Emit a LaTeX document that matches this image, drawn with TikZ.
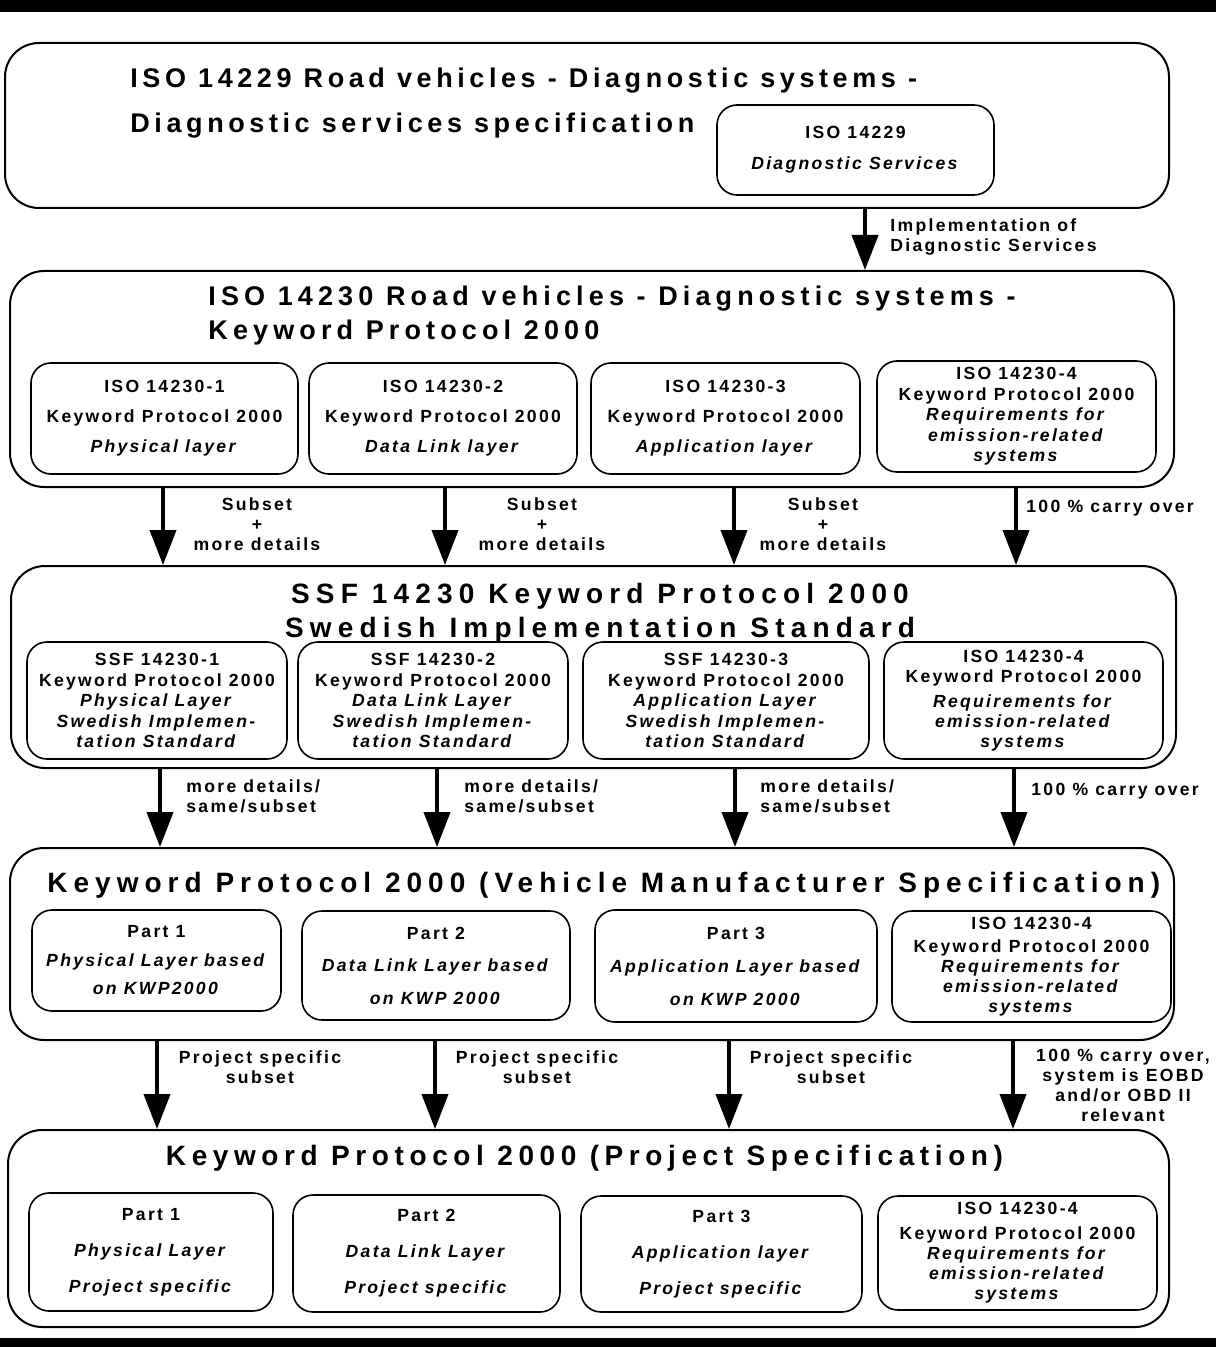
\documentclass[tikz,border=0pt]{standalone}
\usepackage{fontspec}
\setmainfont{Liberation Sans}
\newfontfamily\kwpsmall{Liberation Sans}[LetterSpace=13]
\newfontfamily\kwptitleA{Liberation Sans}[LetterSpace=17]
\newfontfamily\kwptitleB{Liberation Sans}[LetterSpace=19]
\newfontfamily\kwptitleC{Liberation Sans}[LetterSpace=22]
\newfontfamily\kwptitleD{Liberation Sans}[LetterSpace=20]
\newfontfamily\kwptitleE{Liberation Sans}[LetterSpace=21.5]
\usetikzlibrary{arrows.meta}

\begin{document}
\begin{tikzpicture}[x=0.5pt,y=-0.5pt,
outer/.style={draw,line width=1pt,rounded corners=17pt,inner sep=0pt},
part/.style={draw,line width=0.8pt,rounded corners=10pt,align=center,inner sep=0pt,
font=\kwpsmall\bfseries\fontsize{8.8}{#1}\selectfont},
sz/.style 2 args={minimum width=#1*0.5pt,minimum height=#2*0.5pt},
ttl/.style={anchor=base west,inner sep=0pt,font=\kwptitleB\bfseries\fontsize{13.5}{17}\selectfont},
lbl/.style={inner sep=0pt,align=center,font=\kwpsmall\bfseries\fontsize{8.8}{10}\selectfont},
arr/.style={line width=2pt,-{Triangle[width=13pt,length=17.5pt]}}]
\useasboundingbox (0,0) rectangle (1216,1347);
\fill[white] (0,0) rectangle (1216,1347);
\fill (0,0) rectangle (1216,12);
\fill (0,1338) rectangle (1216,1347);

% ISO 14229
\node[outer,sz={1164}{165}] (A) at (587,125.5) {};
\node[ttl,font=\kwptitleA\bfseries\fontsize{13.5}{17}\selectfont] (TA1) at (130,88)
{ISO 14229 Road vehicles - Diagnostic systems -};
\node[ttl,font=\kwptitleA\bfseries\fontsize{13.5}{17}\selectfont] (TA2) at (130,133)
{Diagnostic services specification};
\node[part=15.5,sz={277}{90}] (A1) at (855.5,150) {ISO 14229\\\textit{Diagnostic Services}};

% ISO 14230
\node[outer,sz={1164}{216}] (B) at (592,379) {};
\node[ttl] (TB1) at (208,306) {ISO 14230 Road vehicles - Diagnostic systems -};
\node[ttl] (TB2) at (208,340) {Keyword Protocol 2000};
\node[part=15,sz={267}{111}] (B1) at (164.5,418.5)
{ISO 14230-1\\Keyword Protocol 2000\\\textit{Physical layer}};
\node[part=15,sz={268}{111}] (B2) at (443,418.5)
{ISO 14230-2\\Keyword Protocol 2000\\\textit{Data Link layer}};
\node[part=15,sz={269}{111}] (B3) at (725.5,418.5)
{ISO 14230-3\\Keyword Protocol 2000\\\textit{Application layer}};
\node[part=10.25,sz={279}{111}] (B4) at (1016.5,416.5)
{ISO 14230-4\\Keyword Protocol 2000\\\textit{Requirements for}\\\textit{emission-related}\\\textit{systems}};

\draw[arr] (A.south -| 865,0) -- (B.north -| 865,0);
\node[lbl,align=left,anchor=north west] (LA) at (890,218) {Implementation of\\Diagnostic Services};

% SSF 14230
\node[outer,sz={1165}{202}] (C) at (593.5,667) {};
\node[ttl,anchor=base,font=\kwptitleC\bfseries\fontsize{14}{17}\selectfont] (TC1) at (600,603)
{SSF 14230 Keyword Protocol 2000};
\node[ttl,anchor=base,font=\kwptitleC\bfseries\fontsize{14}{17}\selectfont] (TC2) at (600,637)
{Swedish Implementation Standard};
\node[part=10.25,sz={260}{117}] (C1) at (157,700.5)
{SSF 14230-1\\Keyword Protocol 2000\\\textit{Physical Layer}\\\textit{Swedish Implemen-}\\\textit{tation Standard}};
\node[part=10.25,sz={270}{117}] (C2) at (433,700.5)
{SSF 14230-2\\Keyword Protocol 2000\\\textit{Data Link Layer}\\\textit{Swedish Implemen-}\\\textit{tation Standard}};
\node[part=10.25,sz={286}{117}] (C3) at (726,700.5)
{SSF 14230-3\\Keyword Protocol 2000\\\textit{Application Layer}\\\textit{Swedish Implemen-}\\\textit{tation Standard}};
\node[part=10,sz={279}{117}] (C4) at (1023.5,700.5)
{ISO 14230-4\\Keyword Protocol 2000\\[2.5pt]\textit{Requirements for}\\\textit{emission-related}\\\textit{systems}};

\foreach \ax in {163,445,734,1016}
\draw[arr] (B.south -| \ax,0) -- (C.north -| \ax,0);
\foreach \lx/\nm in {257/LB1,542/LB2,823/LB3}
\node[lbl,anchor=north] (\nm) at (\lx,497) {Subset\\+\\more details};
\node[lbl,anchor=base west] (LB4) at (1026,512) {100 \% carry over};

% vehicle manufacturer
\node[outer,sz={1164}{192}] (D) at (592,944) {};
\node[ttl,font=\kwptitleE\bfseries\fontsize{14}{17}\selectfont] (TD) at (47,892)
{Keyword Protocol 2000 (Vehicle Manufacturer Specification)};
\node[part=14.25,sz={249}{101}] (D1) at (156.5,960.5)
{Part 1\\\textit{Physical Layer based}\\\textit{on KWP2000}};
\node[part=16.25,sz={268}{109}] (D2) at (436,965.5)
{Part 2\\\textit{Data Link Layer based}\\\textit{on KWP 2000}};
\node[part=16.5,sz={282}{112}] (D3) at (736,966)
{Part 3\\\textit{Application Layer based}\\\textit{on KWP 2000}};
\node[part=10,sz={279}{111}] (D4) at (1031.5,966.5)
{ISO 14230-4\\[1.5pt]Keyword Protocol 2000\\\textit{Requirements for}\\\textit{emission-related}\\\textit{systems}};

\foreach \ax in {160,437,735,1014}
\draw[arr] (C.south -| \ax,0) -- (D.north -| \ax,0);
\foreach \lx/\nm in {186/LC1,464/LC2,760/LC3}
\node[lbl,align=left,anchor=north west] (\nm) at (\lx,779) {more details/\\same/subset};
\node[lbl,anchor=base west] (LC4) at (1031,795) {100 \% carry over};

% project
\node[outer,sz={1161}{197}] (E) at (588.5,1228.5) {};
\node[ttl,anchor=base,font=\kwptitleD\bfseries\fontsize{14}{17}\selectfont] (TE) at (584.5,1165)
{Keyword Protocol 2000 (Project Specification)};
\node[part=18,sz={244}{118}] (E1) at (151,1252)
{Part 1\\\textit{Physical Layer}\\\textit{Project specific}};
\node[part=18,sz={267}{117}] (E2) at (426.5,1253.5)
{Part 2\\\textit{Data Link Layer}\\\textit{Project specific}};
\node[part=18,sz={281}{116}] (E3) at (721.5,1254)
{Part 3\\\textit{Application layer}\\\textit{Project specific}};
\node[part=10,sz={279}{114}] (E4) at (1017.5,1253)
{ISO 14230-4\\[2.5pt]Keyword Protocol 2000\\\textit{Requirements for}\\\textit{emission-related}\\\textit{systems}};

\foreach \ax in {157,435,729,1013}
\draw[arr] (D.south -| \ax,0) -- (E.north -| \ax,0);
\foreach \lx/\nm in {260/LD1,537/LD2,831/LD3}
\node[lbl,anchor=north] (\nm) at (\lx,1050) {Project specific\\subset};
\node[lbl,anchor=north] (LD4) at (1123,1049) {100 \% carry over,\\system is EOBD\\and/or OBD II\\relevant};
\end{tikzpicture}
\end{document}
